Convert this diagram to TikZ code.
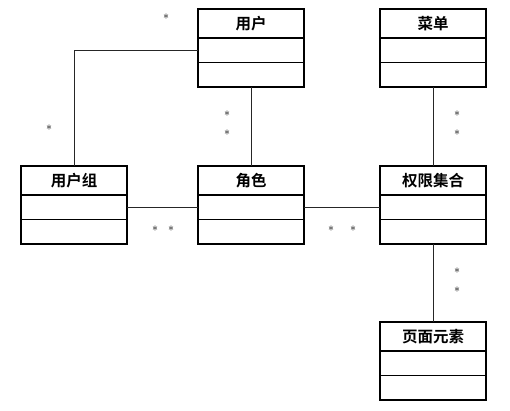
\documentclass[tikz,border=0pt]{standalone}
\usepackage{fontspec}
\newfontfamily\cjk[BoldFont={Noto Sans CJK SC Bold}]{Noto Sans CJK SC}
\usetikzlibrary{positioning}

\begin{document}
\begin{tikzpicture}[x=1pt,y=-1pt,
  classname/.style={rectangle,draw,line width=1.1pt,minimum width=106pt,
                    minimum height=29pt,inner sep=0pt,outer sep=0pt,
                    font=\cjk\bfseries\fontsize{15.5}{17}\selectfont},
  compart/.style={rectangle,draw,line width=1.1pt,minimum width=106pt,
                  minimum height=24.5pt,inner sep=0pt,outer sep=0pt,below=0pt of #1},
  assoc/.style={line width=0.5pt,black!85},
  mult/.style={font=\fontsize{12}{13}\selectfont,inner sep=0pt},
]
\useasboundingbox (0,0) rectangle (510,410);

% Classes
\node[classname] (user)  at (251,23.5)  {用户};
\node[classname] (menu)  at (433,23.5)  {菜单};
\node[classname] (group) at (74,180.5)  {用户组};
\node[classname] (role)  at (251,180.5) {角色};
\node[classname] (perm)  at (433,180.5) {权限集合};
\node[classname] (elem)  at (433,336.5) {页面元素};

% Compartments
\foreach \c in {user,menu,group,role,perm,elem} {
  \node[compart=\c] (\c-a) {};
  \node[compart=\c-a] (\c-b) {};
}

% Associations
\draw[assoc] (user-a.west) -| (group.north);
\draw[assoc] (user-b.south) -- (role.north);
\draw[assoc] (group-a.east) -- (role-a.west);
\draw[assoc] (role-a.east) -- (perm-a.west);
\draw[assoc] (menu-b.south) -- (perm.north);
\draw[assoc] (perm-b.south) -- (elem.north);

% Multiplicities
\node[mult] (m1)  at (166,17)  {$\ast$};
\node[mult] (m2)  at (49,128)  {$\ast$};
\node[mult] (m3)  at (227,114) {$\ast$};
\node[mult] (m4)  at (227,133) {$\ast$};
\node[mult] (m5)  at (155,229) {$\ast$};
\node[mult] (m6)  at (171,229) {$\ast$};
\node[mult] (m7)  at (331,229) {$\ast$};
\node[mult] (m8)  at (353,229) {$\ast$};
\node[mult] (m9)  at (457,114) {$\ast$};
\node[mult] (m10) at (457,133) {$\ast$};
\node[mult] (m11) at (457,271) {$\ast$};
\node[mult] (m12) at (457,290) {$\ast$};

\end{tikzpicture}
\end{document}
